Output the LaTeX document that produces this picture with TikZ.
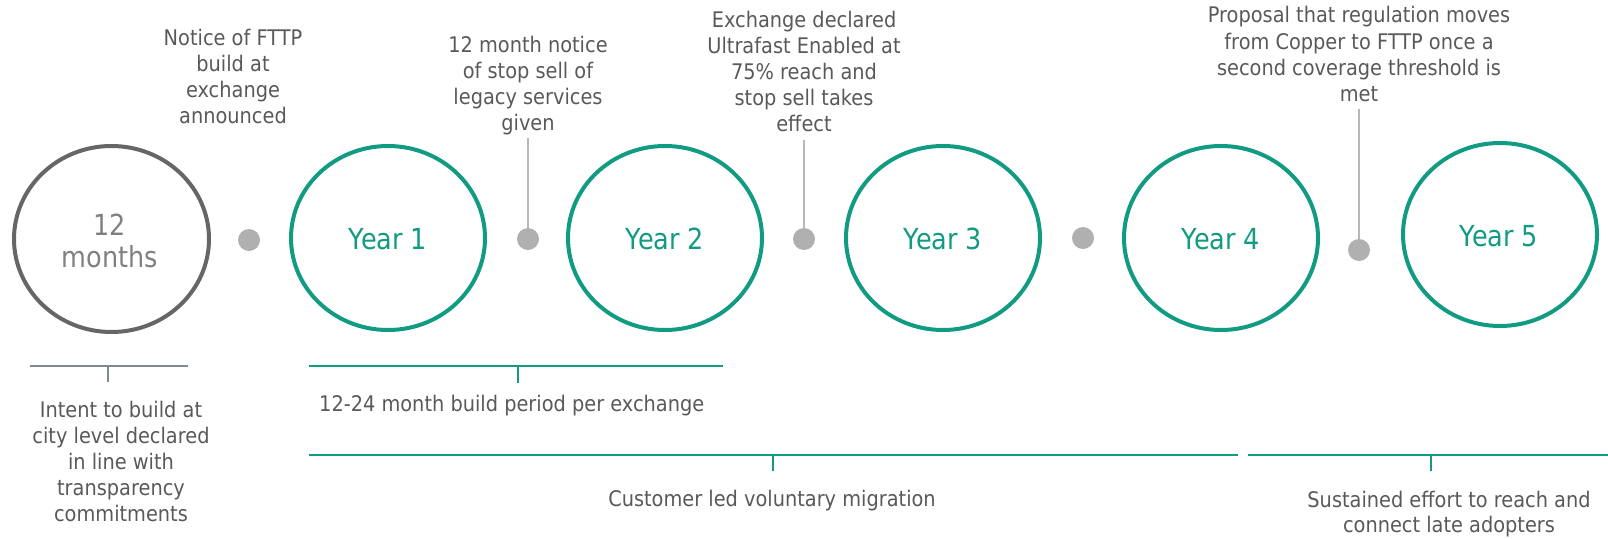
\documentclass[tikz,border=0pt]{standalone}
\usepackage{fontspec}
\setmainfont{DejaVu Sans}[FakeStretch=0.9]
\newfontfamily\circfont{DejaVu Sans}[FakeStretch=0.88]
\usetikzlibrary{shapes.geometric}
\definecolor{teal1}{RGB}{17,155,130}
\definecolor{txtgray}{RGB}{89,89,89}
\definecolor{ringgray}{RGB}{102,102,102}
\definecolor{lblgray}{RGB}{128,128,128}
\definecolor{dotgray}{RGB}{176,176,176}
\definecolor{stemgray}{RGB}{184,184,184}
\definecolor{slate}{RGB}{128,136,146}
\newcommand{\mlines}[1]{\begin{tabular}[t]{@{}c@{}}#1\end{tabular}}
\begin{document}
\begin{tikzpicture}[x=1pt,y=-1pt,
  ring/.style={ellipse, draw=teal1, line width=4pt, minimum width=194pt, minimum height=184pt, inner sep=0pt},
  ringtext/.style={font=\circfont\fontsize{29}{32}\selectfont, text=teal1, inner sep=0pt, anchor=base},
  note/.style={font=\fontsize{21.5}{26}\selectfont, text=txtgray, inner sep=0pt, anchor=base},
  dot/.style={circle, fill=dotgray, minimum size=22pt, inner sep=0pt},
  stem/.style={draw=stemgray, line width=2.5pt},
  span/.style={draw=teal1, line width=2.8pt},
  grayspan/.style={draw=slate, line width=2.8pt}]
\useasboundingbox (0,0) rectangle (1608,538);

% rings
\node[ring, draw=ringgray, minimum width=195pt, minimum height=186pt] (m12) at (111.5,239) {};
\node[ring] (y1) at (388,238) {};
\node[ring] (y2) at (665,238) {};
\node[ring] (y3) at (943,238) {};
\node[ring] (y4) at (1221,238) {};
\node[ring, minimum height=183pt] (y5) at (1500,234.5) {};

% ring texts
\node[ringtext, text=lblgray] (t12) at (110,235) {\mlines{12\\months}};
\node[ringtext] (ty1) at (388,249) {Year 1};
\node[ringtext] (ty2) at (665,249) {Year 2};
\node[ringtext] (ty3) at (943,249) {Year 3};
\node[ringtext] (ty4) at (1221,249) {Year 4};
\node[ringtext] (ty5) at (1499,246) {Year 5};

% notes above
\node[note] (n1) at (233,45) {\mlines{Notice of FTTP\\build at\\exchange\\announced}};
\node[note] (n2) at (528,52) {\mlines{12 month notice\\of stop sell of\\legacy services\\given}};
\node[note] (n3) at (804,27.5) {\mlines{Exchange declared\\Ultrafast Enabled at\\75\% reach and\\stop sell takes\\effect}};
\node[note] (n4) at (1359,23) {\mlines{Proposal that regulation moves\\from Copper to FTTP once a\\second coverage threshold is\\met}};

% stems
\path (528,239) node[dot] (d2) {};
\path (804,239) node[dot] (d3) {};
\path (1359,250) node[dot] (d5) {};
\draw[stem] (d2.north) -- (d2 |- n2.south);
\draw[stem] (d3.north) -- (d3 |- n3.south);
\draw[stem] (d5.north) -- (d5 |- n4.south);
\node[dot] (d1) at (249,240) {};
\node[dot] (d4) at (1083,238) {};

% brackets below
\coordinate (ga) at (30,366);
\coordinate (gb) at (188,366);
\coordinate (gt) at (108,366);
\coordinate (gd) at (108,382);
\draw[grayspan] (ga) -- (gb);
\draw[grayspan] (gt) -- (gd);
\node[note] (n5) at (121,417) {\mlines{Intent to build at\\city level declared\\in line with\\transparency\\commitments}};

\coordinate (ba) at (309,366);
\coordinate (bb) at (723,366);
\coordinate (bt) at (518,366);
\coordinate (bd) at (518,383);
\draw[span] (ba) -- (bb);
\draw[span] (bt) -- (bd);
\node[note, anchor=base west] (n6) at (319,411) {12-24 month build period per exchange};

\coordinate (ca) at (309,455);
\coordinate (cb) at (1238,455);
\coordinate (ct) at (773,455);
\coordinate (cd) at (773,471);
\draw[span] (ca) -- (cb);
\draw[span] (ct) -- (cd);
\node[note] (n7) at (772,506.5) {Customer led voluntary migration};

\coordinate (ea) at (1248,455);
\coordinate (eb) at (1608,455);
\coordinate (et) at (1431,455);
\coordinate (ed) at (1431,471);
\draw[span] (ea) -- (eb);
\draw[span] (et) -- (ed);
\node[note, font=\fontsize{21.5}{24.5}\selectfont] (n8) at (1449,507.5) {\mlines{Sustained effort to reach and\\connect late adopters}};
\end{tikzpicture}
\end{document}
